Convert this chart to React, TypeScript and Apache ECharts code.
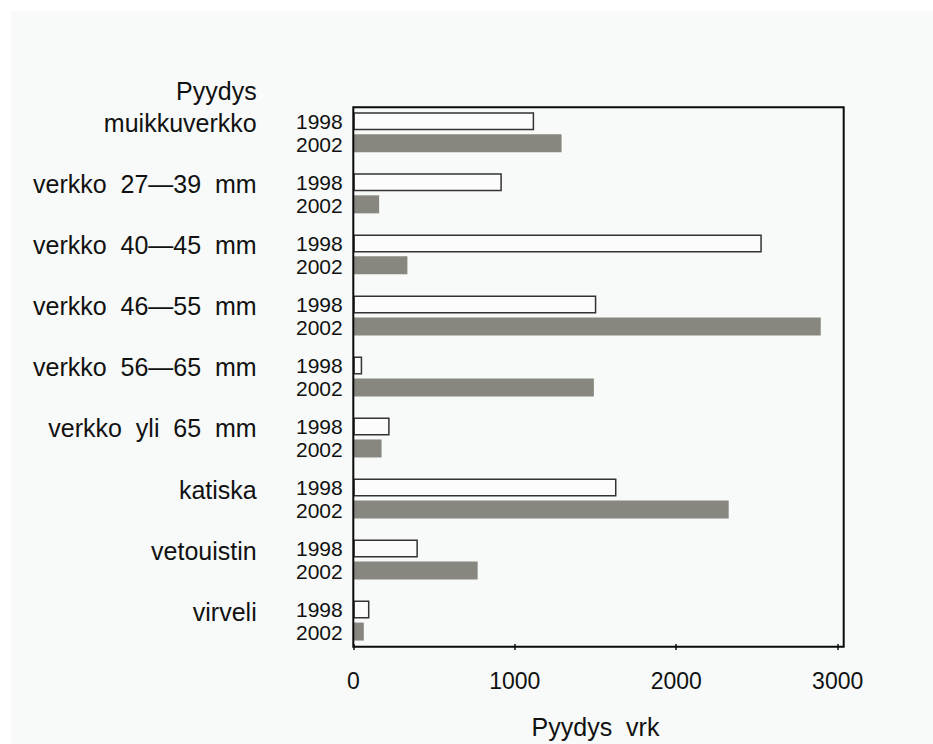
import React, { useEffect, useRef } from "react";
import * as echarts from "echarts";

const categories = [
  "muikkuverkko",
  "verkko  27—39  mm",
  "verkko  40—45  mm",
  "verkko  46—55  mm",
  "verkko  56—65  mm",
  "verkko  yli  65  mm",
  "katiska",
  "vetouistin",
  "virveli",
];
const years = ["1998", "2002"];
const values1998 = [1120, 920, 2530, 1505, 55, 225, 1630, 400, 100];
const values2002 = [1290, 160, 335, 2895, 1490, 175, 2325, 770, 65];
const xMin = 0;
const xMax = 3000;
const xInterval = 1000;
const headerLabel = "Pyydys";
const xAxisTitle = "Pyydys  vrk";

const FONT = "'Liberation Sans', Arial, Helvetica, sans-serif";

const hiddenCat = {
  type: "category",
  data: categories,
  inverse: true,
  position: "left",
  axisLine: { show: false },
  axisTick: { show: false },
};

export default function App() {
  const ref = useRef<HTMLDivElement>(null);
  useEffect(() => {
    document.body.style.margin = "0";
    const chart = echarts.init(ref.current!, null, { renderer: "svg" });
    chart.setOption({
      animation: false,
      backgroundColor: "#ffffff",
      grid: { left: 353.3, top: 101.8, width: 484.4, height: 552 },
      graphic: [
        {
          type: "rect",
          z: -10,
          shape: { x: 11, y: 10.7, width: 922, height: 733.3 },
          style: { fill: "#f7faf8" },
        },
        {
          type: "rect",
          z: 10,
          shape: { x: 353.3, y: 107.3, width: 490.4, height: 539.4 },
          style: { fill: "none", stroke: "#0a0a0a", lineWidth: 2 },
        },
        {
          type: "text",
          z: 10,
          x: 256.7,
          y: 90.8,
          style: {
            text: headerLabel,
            fontSize: 25,
            fontFamily: FONT,
            fill: "#111",
            align: "right",
            verticalAlign: "middle",
          },
        },
      ],
      xAxis: {
        type: "value",
        min: xMin,
        max: xMax,
        interval: xInterval,
        offset: -7.1,
        axisLine: { show: false },
        axisTick: { show: true, length: 6, lineStyle: { color: "#111", width: 1.5 } },
        splitLine: { show: false },
        axisLabel: {
          fontSize: 23,
          color: "#111",
          fontFamily: FONT,
          margin: 25,
          formatter: (v: number) => String(v),
        },
        name: xAxisTitle,
        nameLocation: "middle",
        nameGap: 70,
        nameTextStyle: { fontSize: 25, color: "#111", fontFamily: FONT },
      },
      yAxis: [
        {
          ...hiddenCat,
          axisLabel: {
            formatter: () => years[0],
            fontSize: 21,
            lineHeight: 22.6,
            verticalAlign: "bottom",
            margin: 10.6,
            color: "#111",
            fontFamily: FONT,
          },
        },
        {
          ...hiddenCat,
          axisLabel: {
            formatter: () => years[1],
            fontSize: 21,
            lineHeight: 24.6,
            verticalAlign: "top",
            margin: 10.6,
            color: "#111",
            fontFamily: FONT,
          },
        },
        {
          ...hiddenCat,
          axisLabel: {
            fontSize: 25,
            lineHeight: 18,
            verticalAlign: "bottom",
            margin: 96.6,
            color: "#111",
            fontFamily: FONT,
          },
        },
      ],
      series: [
        {
          type: "bar",
          name: years[0],
          yAxisIndex: 0,
          data: values1998,
          barWidth: 18,
          barGap: "22%",
          itemStyle: { color: "#fbfcfb", borderColor: "#333", borderWidth: 1.5 },
        },
        {
          type: "bar",
          name: years[1],
          yAxisIndex: 0,
          data: values2002,
          barWidth: 18,
          itemStyle: { color: "#88877f" },
        },
      ],
    });
    return () => chart.dispose();
  }, []);
  return <div ref={ref} style={{ width: 933, height: 744 }} />;
}
